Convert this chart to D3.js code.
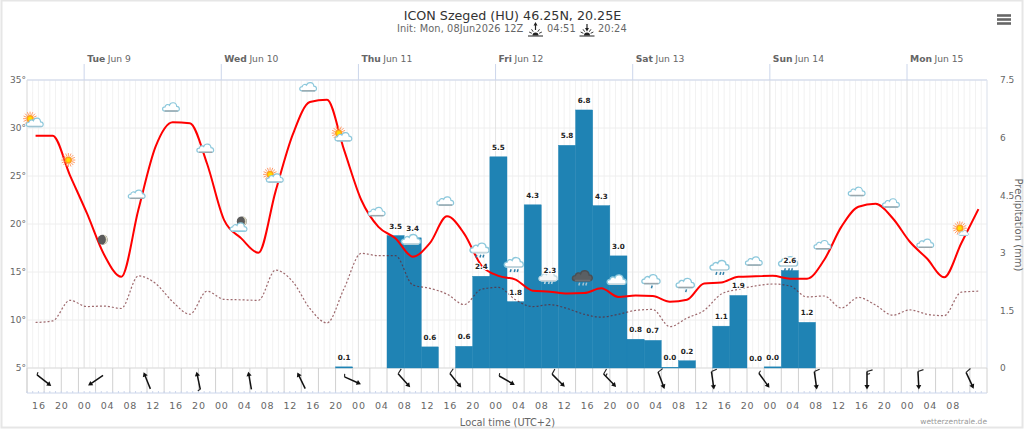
<!DOCTYPE html>
<html>
<head>
    <script src="https://cdn.jsdelivr.net/npm/d3@7"></script>
    <style>
        html, body { margin: 0; padding: 0; background: #fff; overflow: hidden; }
        svg { display: block; font-family: "DejaVu Sans", sans-serif; }
        .axis path, .axis line { display: none; }
        .axis text { fill: #666; font-size: 9px; font-family: "DejaVu Sans", sans-serif; }
        .timeaxis text { font-size: 9.5px; letter-spacing: 0.8px; }
        .barlabel { font-size: 7.2px; font-weight: bold; fill: #222; text-anchor: middle;
                    paint-order: stroke; stroke: #fff; stroke-width: 2px; stroke-linejoin: round; }
    </style>
</head>
<body>
<svg width="1024" height="430"></svg>
<script>
// hours are counted from the left edge of the plot, Mon 14:00 local
const dayStarts = [10, 34, 58, 82, 106, 130, 154]
const dayNames = ["Tue", "Wed", "Thu", "Fri", "Sat", "Sun", "Mon"]
const dayDates = ["Jun 9", "Jun 10", "Jun 11", "Jun 12", "Jun 13", "Jun 14", "Jun 15"]

const timeTicks = [2, 6, 10, 14, 18, 22, 26, 30, 34, 38, 42, 46, 50, 54, 58, 62, 66, 70, 74, 78, 82, 86, 90, 94, 98, 102, 106, 110, 114, 118, 122, 126, 130, 134, 138, 142, 146, 150, 154, 158, 162]
const timeLabels = ["16", "20", "00", "04", "08", "12", "16", "20", "00", "04", "08", "12", "16", "20", "00", "04", "08", "12", "16", "20", "00", "04", "08", "12", "16", "20", "00", "04", "08", "12", "16", "20", "00", "04", "08", "12", "16", "20", "00", "04", "08"]

const tempTicks = [5, 10, 15, 20, 25, 30, 35]
const precipTicks = [0, 1.5, 3, 4.5, 6, 7.5]

// one value per 3 hour step
const temperature = [29.2, 29.2, 25.1, 21.1, 16.8, 14.5, 21.5, 28.05, 30.6, 30.5, 26.3, 20.4, 18.5, 17.0, 23.4, 29.3, 32.7, 32.95, 27.7, 22.5, 19.7, 18.5, 16.6, 18.0, 20.8, 19.0, 15.7, 14.6, 14.2, 13.05, 12.95, 12.75, 12.8, 13.3, 12.4, 12.55, 12.5, 11.9, 12.1, 13.8, 13.9, 14.5, 14.55, 14.6, 14.3, 14.3, 16.25, 19.7, 21.8, 22.1, 20.6, 18.15, 16.4, 14.45, 18.0, 21.55]
const dewpoint = [9.74, 9.9, 12.05, 11.4, 11.45, 11.2, 14.6, 13.8, 11.9, 10.6, 13.0, 12.15, 12.1, 12.05, 15.2, 14.0, 11.2, 9.7, 13.3, 16.95, 16.7, 16.7, 13.65, 13.3, 12.7, 11.6, 13.2, 13.4, 12.1, 11.4, 11.6, 11.2, 10.6, 10.3, 10.6, 11.0, 11.1, 9.3, 10.2, 11.0, 12.7, 13.2, 13.55, 13.75, 13.55, 12.4, 12.5, 11.25, 12.35, 11.55, 10.5, 11.05, 10.6, 10.45, 12.9, 13.0]

// bars: start hour, drawn height in mm, printed label
const precipStart = [54, 63, 66, 69, 75, 78, 81, 84, 87, 90, 93, 96, 99, 102, 105, 108, 111, 114, 120, 123, 126, 129, 132, 135]
const precipHeight = [0.03, 3.45, 3.39, 0.55, 0.565, 2.39, 5.5, 1.73, 4.25, 2.29, 5.8, 6.72, 4.23, 2.92, 0.75, 0.72, 0.02, 0.19, 1.09, 1.89, 0, 0.03, 2.54, 1.19]
const precipLabel = ["0.1", "3.5", "3.4", "0.6", "0.6", "2.4", "5.5", "1.8", "4.3", "2.3", "5.8", "6.8", "4.3", "3.0", "0.8", "0.7", "0.0", "0.2", "1.1", "1.9", "0.0", "0.0", "2.6", "1.2"]

// one icon every 6 hours, sitting over the temperature line
const weatherIcons = ["suncloud", "sun", "moon", "cloud", "cloud", "cloud", "mooncloud", "suncloud", "cloud", "suncloud", "cloud", "rain", "cloud", "rain", "rain", "lightrain", "thunder", "rain", "drizzle", "drizzle", "rain", "cloud", "rain", "cloud", "cloud", "cloud", "cloud", "sunsmallcloud"]

// one barb every 9 hours, first at hour 3
const windDir = [308, 56, 158, 168, 170, 154, 294, 318, 321, 300, 315, 316, 339, 352, 324, 352, 0, 357, 335]
const windFeather = [0.5, 0, 0, 0.5, 0, 0, 0.5, 1, 1, 0.5, 1, 1.5, 1, 1, 0.5, 1, 1.5, 1, 1]

const svg = d3.select("svg")
const plotLeft = 27, plotRight = 987, plotTop = 80, plotBottom = 368, stripBottom = 393

const x = d3.scaleLinear().domain([0, 168]).range([plotLeft, plotRight])
const yTemp = d3.scaleLinear().domain([5, 35]).range([plotBottom, plotTop])
const yPrecip = d3.scaleLinear().domain([0, 7.5]).range([plotBottom, plotTop])

// frame
svg.append("rect").attr("x", 1.5).attr("y", 0.5).attr("width", 1021).attr("height", 427)
    .attr("fill", "#fff").attr("stroke", "#e6e6e6").attr("stroke-width", 2)

// hourly grid
svg.append("g").selectAll("line").data(d3.range(0, 169))
    .enter().append("line")
    .attr("x1", d => x(d)).attr("x2", d => x(d))
    .attr("y1", plotTop).attr("y2", plotBottom)
    .attr("stroke", "#f2f2f2").attr("stroke-width", 1)

svg.append("g").selectAll("line").data(tempTicks)
    .enter().append("line")
    .attr("x1", plotLeft).attr("x2", plotRight)
    .attr("y1", d => yTemp(d)).attr("y2", d => yTemp(d))
    .attr("stroke", "#eeeeee").attr("stroke-width", 1)

// day lines, running up above the plot
svg.append("g").selectAll("line").data(dayStarts)
    .enter().append("line")
    .attr("x1", d => x(d)).attr("x2", d => x(d))
    .attr("y1", 64).attr("y2", plotTop)
    .attr("stroke", "#ccd6eb")
svg.append("g").selectAll("line").data(dayStarts)
    .enter().append("line")
    .attr("x1", d => x(d)).attr("x2", d => x(d))
    .attr("y1", plotTop).attr("y2", plotBottom)
    .attr("stroke", "#e4e4e4")

svg.append("line").attr("x1", plotLeft).attr("x2", plotRight).attr("y1", plotTop).attr("y2", plotTop)
    .attr("stroke", "#ccd6eb").attr("stroke-width", 1.2)
svg.append("line").attr("x1", plotRight).attr("x2", plotRight).attr("y1", plotTop).attr("y2", plotBottom)
    .attr("stroke", "#dfe5f0")
svg.append("line").attr("x1", plotLeft).attr("x2", plotLeft).attr("y1", plotTop).attr("y2", stripBottom)
    .attr("stroke", "#dddddd")

// day labels
const dayLabel = svg.append("g").selectAll("text").data(dayStarts)
    .enter().append("text")
    .attr("x", d => x(d) + 3).attr("y", 62)
    .attr("font-size", 9.2).attr("fill", "#666")
dayLabel.append("tspan").attr("font-weight", "bold").text((d, i) => dayNames[i])
dayLabel.append("tspan").attr("dx", 2.5).text((d, i) => dayDates[i])

// wind strip
svg.append("line").attr("x1", plotLeft).attr("x2", plotRight).attr("y1", plotBottom).attr("y2", plotBottom)
    .attr("stroke", "#dddddd")
svg.append("g").selectAll("line").data(d3.range(0, 169, 3))
    .enter().append("line")
    .attr("x1", d => x(d)).attr("x2", d => x(d))
    .attr("y1", plotBottom).attr("y2", stripBottom)
    .attr("stroke", "#d0d0d0")
svg.append("line").attr("x1", plotLeft).attr("x2", plotRight).attr("y1", stripBottom).attr("y2", stripBottom)
    .attr("stroke", "#ccd6eb")
svg.append("g").selectAll("line").data(d3.range(0, 168))
    .enter().append("line")
    .attr("x1", d => x(d)).attr("x2", d => x(d))
    .attr("y1", stripBottom - 2).attr("y2", stripBottom)
    .attr("stroke", "#ccd6eb")

// bars, a thin stroke of the same colour closes the seams between neighbours
svg.append("g").selectAll("rect").data(precipStart)
    .enter().append("rect")
    .attr("x", d => x(d)).attr("width", x(3) - x(0))
    .attr("y", (d, i) => yPrecip(precipHeight[i]))
    .attr("height", (d, i) => plotBottom - yPrecip(precipHeight[i]))
    .attr("fill", "#1f83b4").attr("stroke", "#1f83b4").attr("stroke-width", 0.4)

// lines
const stepHour = (d, i) => x(1.5 + 3 * i)
const tempLine = d3.line().x(stepHour).y(d => yTemp(d)).curve(d3.curveMonotoneX)

svg.append("path").datum(dewpoint).attr("d", tempLine)
    .attr("fill", "none").attr("stroke", "#6b1a20").attr("stroke-width", 1.2)
    .attr("stroke-dasharray", "2,2").attr("stroke-opacity", 0.65)
svg.append("path").datum(temperature).attr("d", tempLine)
    .attr("fill", "none").attr("stroke", "#f00").attr("stroke-width", 2)

// weather icons
const cloudShape = "M-5.5,3.5 C-8.6,3.5 -8.6,-0.4 -5.6,-0.4 C-5.2,-2.6 -2.6,-3 -1.6,-1.8 C-0.6,-5 4.6,-5 5,-0.8 C8,-0.8 8.2,3.5 5.5,3.5 Z"

function drawCloud(g, dx, dy, fill, edge, baseColor, size) {
    const c = g.append("g").attr("transform", `translate(${dx},${dy}) scale(${size || 1.1})`)
    c.append("path").attr("d", cloudShape).attr("fill", fill).attr("stroke", edge).attr("stroke-width", 1.1)
    c.append("line").attr("x1", -6).attr("x2", 6).attr("y1", 3.4).attr("y2", 3.4)
        .attr("stroke", baseColor).attr("stroke-width", 1.3)
}
function drawSun(g, dx, dy, r) {
    const s = g.append("g").attr("transform", `translate(${dx},${dy})`)
    s.selectAll("line").data(d3.range(0, 360, 22.5)).enter().append("line")
        .attr("x1", d => Math.cos(d * Math.PI / 180) * r * 0.55)
        .attr("y1", d => Math.sin(d * Math.PI / 180) * r * 0.55)
        .attr("x2", d => Math.cos(d * Math.PI / 180) * r)
        .attr("y2", d => Math.sin(d * Math.PI / 180) * r)
        .attr("stroke", "#ff9058").attr("stroke-width", 0.9)
    s.append("circle").attr("r", r * 0.52).attr("fill", "#ff9d1e")
    s.append("circle").attr("r", r * 0.3).attr("fill", "#ffe000")
}
function drawMoon(g, dx, dy) {
    const m = g.append("g").attr("transform", `translate(${dx},${dy})`)
    m.append("circle").attr("r", 5).attr("fill", "#5b5b5b")
    m.append("path").attr("d", "M1.5,-4.6 A5,5 0 0 1 1.5,4.6 A6,6 0 0 0 1.5,-4.6 Z")
        .attr("fill", "#e6e2c8").attr("stroke", "#e6e2c8").attr("stroke-width", 0.6)
}
function drawDrops(g, spots, color) {
    g.selectAll("path.drop").data(spots).enter().append("path")
        .attr("class", "drop")
        .attr("d", d => `M${d},4.5 l-0.8,2.8`)
        .attr("stroke", color).attr("stroke-width", 1.5).attr("fill", "none")
}

const iconG = svg.append("g").selectAll("g").data(weatherIcons)
    .enter().append("g")
    .attr("transform", (d, i) => `translate(${x(1.5 + 6 * i) - 1.5},${yTemp(temperature[2 * i]) - 15})`)

iconG.each(function(name) {
    const g = d3.select(this)
    if (name === "cloud") {
        drawCloud(g, 0, 0, "#fff", "#8cc8dc", "#9aa7ad")
    } else if (name === "sun") {
        drawSun(g, 0, 0, 7)
    } else if (name === "moon") {
        drawMoon(g, 0, 0)
    } else if (name === "suncloud") {
        drawSun(g, -4, -2, 7)
        drawCloud(g, 1, 2, "#fff", "#8cc8dc", "#a0c4d2")
    } else if (name === "sunsmallcloud") {
        drawSun(g, 0, 0, 7)
        drawCloud(g, 4, 5, "#fff", "#8cc8dc", "#a0c4d2", 0.65)
    } else if (name === "mooncloud") {
        drawMoon(g, 2, -2)
        drawCloud(g, -1, 4, "#fff", "#8cc8dc", "#8cc8dc")
    } else if (name === "rain") {
        drawDrops(g, [-3, 1, 4], "#2f7fa8")
        drawCloud(g, 0, -2, "#fff", "#8cc8dc", "#c6d6dc", 1.25)
    } else if (name === "drizzle") {
        drawDrops(g, [1], "#2f7fa8")
        drawCloud(g, 0, -1.5, "#fff", "#8cc8dc", "#9aa7ad", 1.2)
    } else if (name === "lightrain") {
        drawDrops(g, [-3, 1, 4], "#bcd7e2")
        drawCloud(g, 0, 0, "#f6f8f9", "#c0dbe5", "#c9d3d8", 1.2)
    } else if (name === "thunder") {
        drawDrops(g, [-3, 1, 4], "#a9c2cf")
        drawCloud(g, 0, -2, "#5a5f63", "#4c5054", "#6a6f73", 1.3)
    }
})

// bar labels go over the icons
svg.append("g").selectAll("text").data(precipStart)
    .enter().append("text")
    .attr("class", "barlabel")
    .attr("x", d => x(d + 1.5))
    .attr("y", (d, i) => yPrecip(precipHeight[i]) - 7)
    .text((d, i) => precipLabel[i])

// wind barbs
const windCenterY = 380.5
const windG = svg.append("g").selectAll("g").data(windDir)
    .enter().append("g")
    .attr("transform", (d, i) => `translate(${x(3 + 9 * i)},${windCenterY}) rotate(${d})`)

// drawn pointing down the page before rotation, tail at y = -9
windG.append("line").attr("x1", 0).attr("x2", 0).attr("y1", -9).attr("y2", 6)
    .attr("stroke", "#111").attr("stroke-width", 1.5)
windG.append("path").attr("d", "M0,9 L-2.6,4.6 L2.6,4.6 Z").attr("fill", "#111")
windG.each(function(d, i) {
    const g = d3.select(this)
    const f = windFeather[i]
    if (f === 0.5) {
        g.append("line").attr("x1", 0).attr("y1", -9).attr("x2", 2.8).attr("y2", -10)
            .attr("stroke", "#222").attr("stroke-width", 1.1)
    }
    if (f >= 1) {
        g.append("line").attr("x1", 0).attr("y1", -9).attr("x2", 5.6).attr("y2", -10.6)
            .attr("stroke", "#222").attr("stroke-width", 1.1)
    }
    if (f === 1.5) {
        g.append("line").attr("x1", 0).attr("y1", -6).attr("x2", 3).attr("y2", -7)
            .attr("stroke", "#222").attr("stroke-width", 1.1)
    }
})

// axes
svg.append("g").attr("class", "axis")
    .attr("transform", `translate(${plotLeft},0)`)
    .call(d3.axisLeft(yTemp).tickValues(tempTicks).tickSize(0).tickPadding(1).tickFormat(d => d + "°"))
svg.append("g").attr("class", "axis")
    .attr("transform", `translate(${plotRight},0)`)
    .call(d3.axisRight(yPrecip).tickValues(precipTicks).tickSize(0).tickPadding(13).tickFormat(d => d))
svg.append("g").attr("class", "axis timeaxis")
    .attr("transform", `translate(0,${stripBottom})`)
    .call(d3.axisBottom(x).tickValues(timeTicks).tickSize(0).tickPadding(9.5)
        .tickFormat((d, i) => timeLabels[i]))

// titles
svg.append("text").attr("x", 512.5).attr("y", 20).attr("text-anchor", "middle")
    .attr("font-size", 12.7).attr("fill", "#333").text("ICON Szeged (HU) 46.25N, 20.25E")

const subStyle = s => s.attr("font-size", 9.8).attr("fill", "#666").attr("letter-spacing", 0.1)
svg.append("text").attr("x", 397).attr("y", 31.5).call(subStyle).text("Init: Mon, 08Jun2026 12Z")
svg.append("text").attr("x", 547).attr("y", 31.5).call(subStyle).text("04:51")
svg.append("text").attr("x", 598).attr("y", 31.5).call(subStyle).text("20:24")

function sunMark(cx, up) {
    const g = svg.append("g").attr("transform", `translate(${cx},0)`)
    g.append("line").attr("x1", -7.5).attr("x2", 7.5).attr("y1", 36).attr("y2", 36).attr("stroke", "#222")
    g.append("path").attr("d", "M-3,35.5 A3,3 0 0 1 3,35.5 Z").attr("fill", "#222")
    g.selectAll("line.ray").data([-65, -35, 35, 65]).enter().append("line")
        .attr("class", "ray")
        .attr("x1", d => Math.sin(d * Math.PI / 180) * 4).attr("y1", d => 35 - Math.cos(d * Math.PI / 180) * 4)
        .attr("x2", d => Math.sin(d * Math.PI / 180) * 7).attr("y2", d => 35 - Math.cos(d * Math.PI / 180) * 7)
        .attr("stroke", "#222").attr("stroke-width", 0.9)
    g.append("line").attr("x1", 0).attr("x2", 0).attr("y1", 24).attr("y2", 30).attr("stroke", "#222").attr("stroke-width", 1.2)
    g.append("path").attr("d", up ? "M-2,25.5 L0,22 L2,25.5 Z" : "M-2,28 L0,31.5 L2,28 Z").attr("fill", "#222")
}
sunMark(535.5, true)
sunMark(587, false)

svg.append("text").attr("x", 507.5).attr("y", 426).attr("text-anchor", "middle")
    .attr("font-size", 9.8).attr("fill", "#666").text("Local time (UTC+2)")
svg.append("text").attr("x", 987).attr("y", 423.5).attr("text-anchor", "end")
    .attr("font-size", 7.5).attr("fill", "#999").text("wetterzentrale.de")
svg.append("text").attr("transform", "translate(1014.5,225) rotate(90)").attr("text-anchor", "middle")
    .attr("font-size", 10).attr("fill", "#666").text("Precipitation (mm)")

// menu button
svg.append("g").selectAll("line").data([15.5, 19.5, 23.5])
    .enter().append("line")
    .attr("x1", 997).attr("x2", 1011)
    .attr("y1", d => d).attr("y2", d => d)
    .attr("stroke", "#666").attr("stroke-width", 2.6)
</script>
</body>
</html>
